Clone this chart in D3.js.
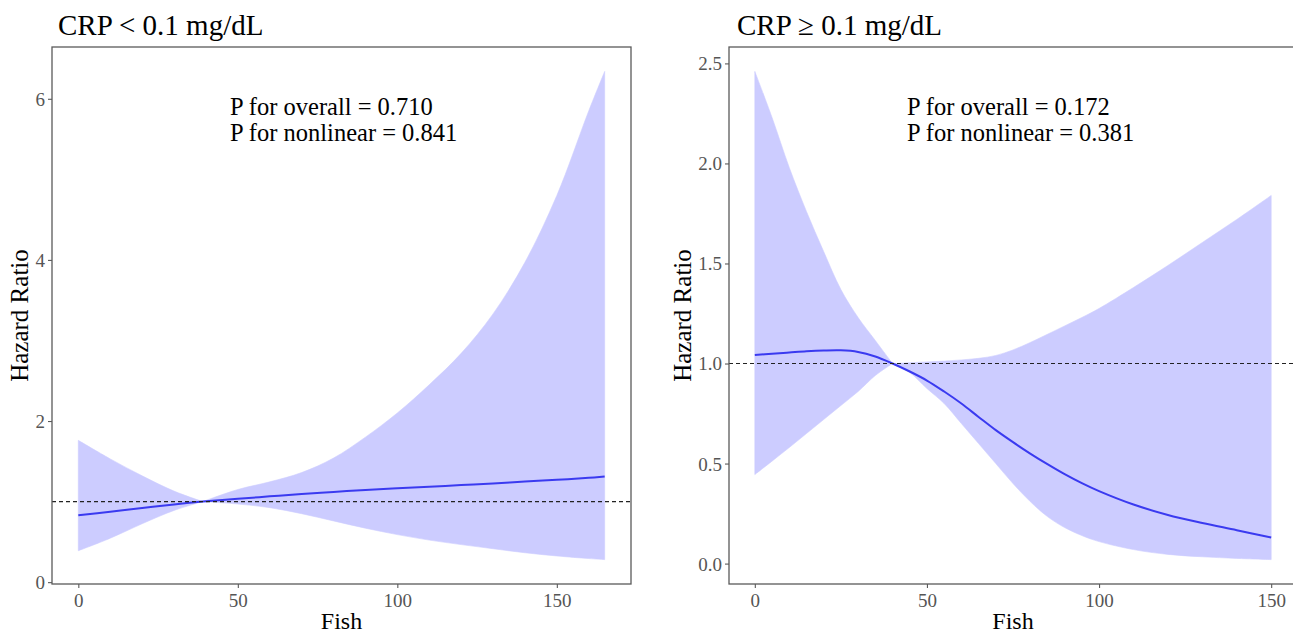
<!DOCTYPE html>
<html>
<head>
<meta charset="utf-8">
<script src="https://cdn.jsdelivr.net/npm/d3@7"></script>
<style>
  html, body { margin: 0; padding: 0; background: #fff; }
  svg { display: block; font-family: "Liberation Serif", "Times New Roman", serif; }
</style>
</head>
<body>
<svg id="chart" width="1293" height="634"></svg>
<script>
// ---------------- DATA ----------------
// Left panel: CRP < 0.1 mg/dL
const leftFish  = [0, 10, 20, 30, 39, 50, 60, 70, 80, 90, 100, 110, 120, 130, 140, 150, 160, 165];
const leftHR    = [0.83, 0.875, 0.92, 0.965, 1.0, 1.035, 1.065, 1.095, 1.12, 1.145, 1.165, 1.185, 1.205, 1.225, 1.25, 1.27, 1.295, 1.31];
const leftUpper = [1.76, 1.53, 1.32, 1.13, 1.0, 1.15, 1.245, 1.36, 1.54, 1.80, 2.10, 2.45, 2.84, 3.33, 3.97, 4.80, 5.85, 6.34];
const leftLower = [0.39, 0.545, 0.725, 0.89, 1.0, 0.97, 0.925, 0.85, 0.76, 0.67, 0.59, 0.522, 0.466, 0.415, 0.365, 0.325, 0.293, 0.28];
const leftYTicks = [0, 2, 4, 6];
const leftXTicks = [0, 50, 100, 150];

// Right panel: CRP >= 0.1 mg/dL
const rightFish  = [0, 5, 10, 15, 20, 25, 30, 35, 40, 45, 50, 55, 60, 65, 70, 75, 80, 85, 90, 95, 100, 110, 120, 130, 140, 150];
const rightHR    = [1.042, 1.049, 1.055, 1.061, 1.065, 1.066, 1.058, 1.035, 1.0, 0.96, 0.915, 0.86, 0.80, 0.733, 0.667, 0.607, 0.55, 0.497, 0.447, 0.402, 0.362, 0.295, 0.243, 0.203, 0.167, 0.13];
const rightUpper = [2.46, 2.23, 1.98, 1.76, 1.56, 1.37, 1.23, 1.115, 1.0, 1.004, 1.008, 1.012, 1.018, 1.026, 1.04, 1.068, 1.105, 1.146, 1.188, 1.23, 1.275, 1.38, 1.49, 1.605, 1.72, 1.84];
const rightLower = [0.445, 0.512, 0.58, 0.65, 0.72, 0.79, 0.86, 0.94, 1.0, 0.955, 0.875, 0.80, 0.70, 0.60, 0.50, 0.40, 0.31, 0.235, 0.18, 0.14, 0.11, 0.07, 0.046, 0.034, 0.026, 0.02];
const rightYTicks = [0.0, 0.5, 1.0, 1.5, 2.0, 2.5];
const rightXTicks = [0, 50, 100, 150];

const titles = ["CRP < 0.1 mg/dL", "CRP \u2265 0.1 mg/dL"];
const pTexts = [
  ["P for overall = 0.710", "P for nonlinear = 0.841"],
  ["P for overall = 0.172", "P for nonlinear = 0.381"]
];
const xLabel = "Fish";
const yLabel = "Hazard Ratio";

// ---------------- DRAW ----------------
const svg = d3.select("#chart");
const bandColor = "#ccccff";
const lineColor = "#3a3af0";
const axisColor = "#5a5a5a";
const tickTextColor = "#555555";
const curve = d3.curveCatmullRom.alpha(0.5);

function expand(lo, hi, f) { const d = (hi - lo) * f; return [lo - d, hi + d]; }

function panel(cfg) {
  const { left, right, top, bottom, fish, hr, upper, lower, xTicks, yTicks, yFmt, title, ptext, titleX, ptX, yTitleX } = cfg;
  const xDom = expand(d3.min(fish), d3.max(fish), 0.05);
  const yDom = expand(d3.min(lower), d3.max(upper), 0.05);
  const x = d3.scaleLinear().domain(xDom).range([left, right]);
  const y = d3.scaleLinear().domain(yDom).range([bottom, top]);
  const g = svg.append("g");

  const rows = fish.map((f, i) => ({ f, hr: hr[i], lo: lower[i], hi: upper[i] }));

  // split the band at the reference point (where upper == lower) so the pinch stays sharp
  const pinch = rows.findIndex(d => d.hi === d.lo);
  const parts = pinch > 0 ? [rows.slice(0, pinch + 1), rows.slice(pinch)] : [rows];
  parts.forEach(part => {
    g.append("path")
      .datum(part)
      .attr("fill", bandColor)
      .attr("stroke", bandColor).attr("stroke-width", 0.6)
      .attr("d", d3.area().curve(curve)
        .x(d => x(d.f)).y0(d => y(d.lo)).y1(d => y(d.hi)));
  });

  g.append("path")
    .datum(rows)
    .attr("fill", "none")
    .attr("stroke", lineColor)
    .attr("stroke-width", 2)
    .attr("d", d3.line().curve(curve).x(d => x(d.f)).y(d => y(d.hr)));

  g.append("line")
    .attr("x1", left).attr("x2", right)
    .attr("y1", y(1)).attr("y2", y(1))
    .attr("stroke", "#222").attr("stroke-width", 1.2)
    .attr("stroke-dasharray", "4,3");

  // panel border
  g.append("rect")
    .attr("x", left).attr("y", top)
    .attr("width", right - left).attr("height", bottom - top)
    .attr("fill", "none").attr("stroke", axisColor).attr("stroke-width", 1.3);

  // x axis
  const xAxis = g.append("g").attr("transform", `translate(0,${bottom})`)
    .call(d3.axisBottom(x).tickValues(xTicks).tickSize(4).tickPadding(4).tickFormat(d3.format("d")));
  xAxis.select(".domain").remove();
  xAxis.selectAll(".tick line").attr("stroke", axisColor).attr("stroke-width", 1.1);
  xAxis.selectAll(".tick text")
    .attr("fill", tickTextColor).attr("font-size", 19).attr("font-family", "Liberation Serif")
    .attr("dy", null).attr("y", 23);

  // y axis
  const yAxis = g.append("g").attr("transform", `translate(${left},0)`)
    .call(d3.axisLeft(y).tickValues(yTicks).tickSize(4).tickPadding(4).tickFormat(yFmt));
  yAxis.select(".domain").remove();
  yAxis.selectAll(".tick line").attr("stroke", axisColor).attr("stroke-width", 1.1);
  yAxis.selectAll(".tick text")
    .attr("fill", tickTextColor).attr("font-size", 19).attr("font-family", "Liberation Serif")
    .attr("dy", "0.34em").attr("x", -7);

  // titles
  g.append("text").attr("x", titleX).attr("y", 35)
    .attr("font-size", 29).attr("fill", "#000").text(title);

  g.append("text")
    .attr("x", (left + right) / 2)
    .attr("y", 629).attr("text-anchor", "middle")
    .attr("font-size", 24).attr("fill", "#000").text(xLabel);

  g.append("text")
    .attr("transform", `translate(${yTitleX},${(top + bottom) / 2}) rotate(-90)`)
    .attr("text-anchor", "middle")
    .attr("font-size", 25).attr("fill", "#000").text(yLabel);

  ptext.forEach((t, i) => {
    g.append("text").attr("x", ptX).attr("y", 115 + i * 26)
      .attr("font-size", 24.5).attr("fill", "#000").text(t);
  });
}

panel({
  left: 52, right: 631, top: 47, bottom: 584,
  fish: leftFish, hr: leftHR, upper: leftUpper, lower: leftLower,
  xTicks: leftXTicks, yTicks: leftYTicks, yFmt: d3.format("d"),
  title: titles[0], ptext: pTexts[0], titleX: 58, ptX: 230, yTitleX: 28
});

panel({
  left: 729, right: 1297, top: 47, bottom: 584,
  fish: rightFish, hr: rightHR, upper: rightUpper, lower: rightLower,
  xTicks: rightXTicks, yTicks: rightYTicks, yFmt: d3.format(".1f"),
  title: titles[1], ptext: pTexts[1], titleX: 737, ptX: 907, yTitleX: 691
});
</script>
</body>
</html>
